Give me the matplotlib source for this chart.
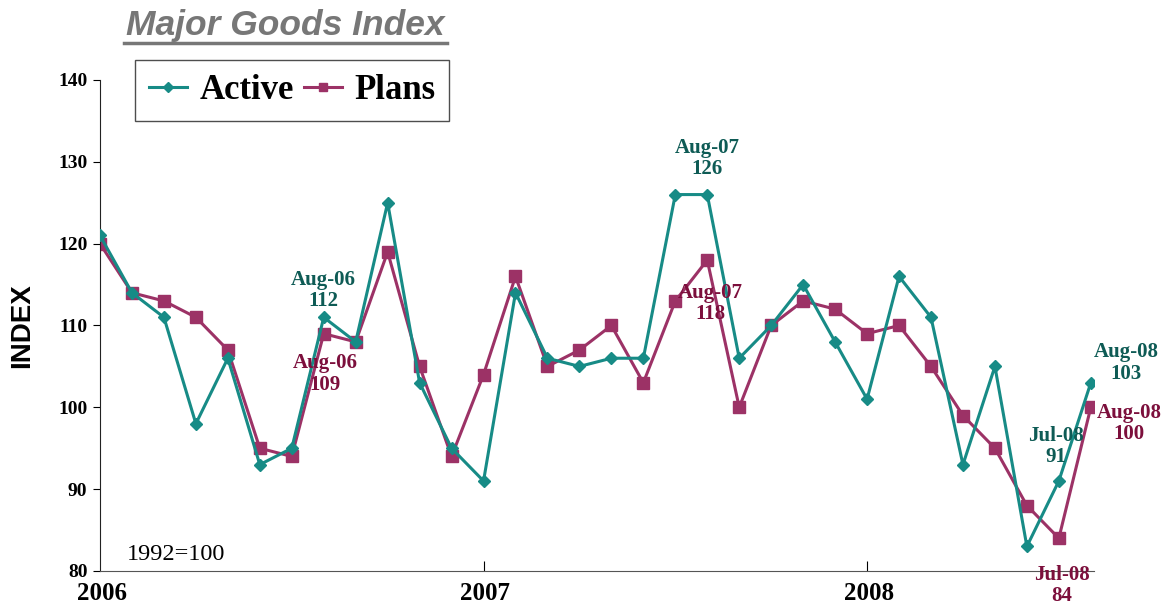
import matplotlib
matplotlib.use('Agg')
import matplotlib.pyplot as plt

months = list(range(32))  # Jan-06 .. Aug-08
active = [121, 114, 111, 98, 106, 93, 95, 111, 108, 125, 103, 95,
          91, 114, 106, 105, 106, 106, 126, 126, 106, 110, 115, 108,
          101, 116, 111, 93, 105, 83, 91, 103]
plans = [120, 114, 113, 111, 107, 95, 94, 109, 108, 119, 105, 94,
         104, 116, 105, 107, 110, 103, 113, 118, 100, 110, 113, 112,
         109, 110, 105, 99, 95, 88, 84, 100]
year_ticks = [0, 12, 24]
year_labels = ['2006', '2007', '2008']
y_ticks = [80, 90, 100, 110, 120, 130, 140]

teal = '#178b86'
maroon = '#9c3266'
teal_txt = '#0e5b55'
maroon_txt = '#7c0f3c'
serif = ['Liberation Serif', 'DejaVu Serif']

fig = plt.figure(figsize=(11.64, 6.07), dpi=100)
ax = fig.add_axes([100 / 1164, 1 - 571 / 607, 994 / 1164, (571 - 80) / 607])

ax.plot(months, active, color=teal, lw=2.2, marker='D', ms=6.5, label='Active', zorder=3)
ax.plot(months, plans, color=maroon, lw=2.2, marker='s', ms=8, label='Plans', zorder=2)

ax.set_xlim(0, 31.1)
ax.set_ylim(80, 140)
ax.spines['top'].set_visible(False)
ax.spines['right'].set_visible(False)
ax.spines['left'].set_color('#222222')
ax.spines['bottom'].set_color('#555555')

ax.set_yticks(y_ticks)
ax.set_yticklabels([str(v) for v in y_ticks], family=serif, fontweight='bold', fontsize=14)
ax.tick_params(axis='y', direction='out', length=5, pad=4)
ax.set_xticks(year_ticks[1:])
ax.set_xticklabels([])
ax.tick_params(axis='x', direction='in', length=7)
for xt, lab in zip(year_ticks, year_labels):
    ax.text(xt + 0.05, 77.2, lab, ha='center', va='center', family=serif,
            fontweight='bold', fontsize=18, clip_on=False)

ax.text(0.85, 82, '1992=100', family=serif, fontsize=17.5, va='center', ha='left')

fig.text(22 / 1164, 1 - 326 / 607, 'INDEX', rotation=90, ha='center', va='center',
         family=['Liberation Sans', 'DejaVu Sans'], fontweight='bold', fontsize=20)

fig.text(285 / 1164, 1 - 26 / 607, 'Major Goods Index', ha='center', va='center',
         family=['Liberation Sans', 'DejaVu Sans'], fontweight='bold', style='italic',
         fontsize=25.5, color='#777777')
fig.add_artist(plt.Line2D([124 / 1164, 447 / 1164], [1 - 43 / 607, 1 - 43 / 607],
                          color='#777777', lw=2.5))

ann = [
    (7, 114.3, 'Aug-06\n112', teal_txt),
    (7.05, 104.1, 'Aug-06\n109', maroon_txt),
    (19, 130.4, 'Aug-07\n126', teal_txt),
    (19.1, 112.7, 'Aug-07\n118', maroon_txt),
    (32.1, 105.4, 'Aug-08\n103', teal_txt),
    (32.2, 98.0, 'Aug-08\n100', maroon_txt),
    (29.9, 95.2, 'Jul-08\n91', teal_txt),
    (30.1, 78.2, 'Jul-08\n84', maroon_txt),
]
for x, y, s, c in ann:
    ax.text(x, y, s, ha='center', va='center', color=c, family=serif,
            fontweight='bold', fontsize=15, linespacing=1.1, clip_on=False, zorder=4)

leg = ax.legend(loc='upper left', bbox_to_anchor=(35 / 994, (571 - 60) / 491),
                prop={'family': serif, 'weight': 'bold', 'size': 25},
                ncol=2, frameon=True, fancybox=False, handlelength=1.1,
                handletextpad=0.35, columnspacing=0.3, borderpad=0.4, borderaxespad=0,
                markerscale=0.8)
leg.get_frame().set_edgecolor('#222222')
leg.get_frame().set_linewidth(1.0)

fig.savefig('out.png', dpi=100)
